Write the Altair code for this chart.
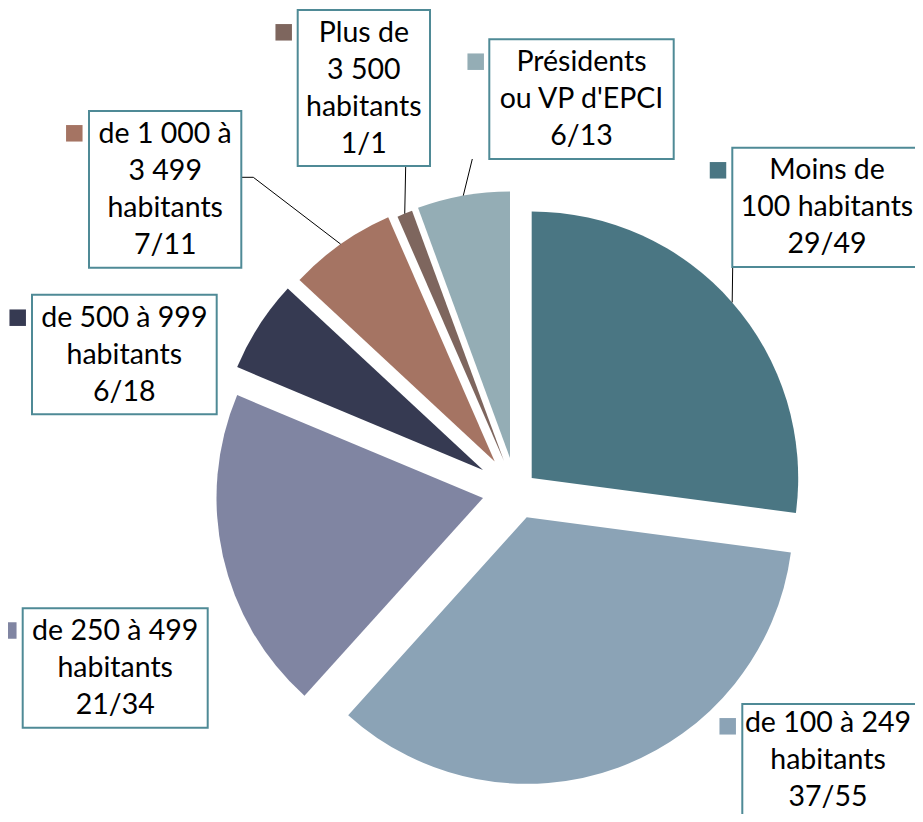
import altair as alt
import pandas as pd

# ---- data ----
categories = [
    "Moins de 100 habitants",
    "de 100 à 249 habitants",
    "de 250 à 499 habitants",
    "de 500 à 999 habitants",
    "de 1 000 à 3 499 habitants",
    "Plus de 3 500 habitants",
    "Présidents ou VP d'EPCI",
]
elus = [29, 37, 21, 6, 7, 1, 6]
totaux = [49, 55, 34, 18, 11, 1, 13]
label_lines = [
    ["Moins de", "100 habitants"],
    ["de 100 à 249", "habitants"],
    ["de 250 à 499", "habitants"],
    ["de 500 à 999", "habitants"],
    ["de 1 000 à", "3 499", "habitants"],
    ["Plus de", "3 500", "habitants"],
    ["Présidents", "ou VP d'EPCI"],
]
colors = ["#4A7683", "#8BA3B6", "#8085A2", "#363A52", "#A57463", "#7E665E", "#94ADB5"]

# ---- layout (pixels, plot coordinates) ----
W, H = 907, 806
CX, CY = 497, 477
R = 266.5
LH = 37
BORDER = "#4F8A96"
explode_dx = [26.7, 21.7, -22, -22, -10.3, -1, 5]
explode_dy = [-7, 32.3, 13, -15, -23.5, -24, -27]
box_x0 = [724.3, 734.3, 14.7, 24, 81, 289.7, 481.3]
box_x1 = [913.7, 914.7, 199.7, 208.7, 233.3, 422, 665.7]
box_y0 = [139.7, 696, 600.3, 286.7, 103, 2, 31.3]
box_y1 = [259, 830, 719.7, 406.3, 259.7, 158, 151]
text_x = [819, 820, 107.2, 116.3, 157.2, 355.8, 573.5]
text_y = [199.3, 752, 660, 346.5, 181.3, 80, 91.2]
mark_x = [710, 719.7, 0.3, 9.7, 66.3, 275.7, 467.7]
mark_y = [162.3, 718.3, 622.5, 309.7, 125.3, 24.3, 53.7]
has_leader = [1, 0, 0, 0, 1, 1, 1]
lead_ax = [724.7, 0, 0, 0, 233.3, 397.7, 464.3]
lead_ay = [259, 0, 0, 0, 169.3, 158, 151]
lead_bx = [724.7, 0, 0, 0, 245.3, 397.7, 464.3]
lead_by = [259, 0, 0, 0, 169.3, 158, 151]

labels = [
    "\n".join(lines + [f"{e}/{t}"]) for lines, e, t in zip(label_lines, elus, totaux)
]

df = pd.DataFrame({
    "idx": list(range(len(categories))),
    "cat": categories,
    "elus": elus,
    "label": labels,
    "dx": explode_dx, "dy": explode_dy,
    "bx0": box_x0, "bx1": box_x1, "by0": box_y0, "by1": box_y1,
    "tx": text_x, "ty": text_y,
    "mx": mark_x, "my": mark_y,
    "lead": has_leader,
    "ax": lead_ax, "ay": lead_ay, "bx": lead_bx, "by": lead_by,
})

color_scale = alt.Scale(domain=categories, range=colors)
total_elus = sum(elus)

base = alt.Chart(df).transform_window(
    c1="sum(elus)", sort=[alt.SortField("idx")], frame=[None, 0]
).transform_joinaggregate(
    tot="sum(elus)"
).transform_calculate(
    c0="datum.c1 - datum.elus",
    cx=f"{CX} + datum.dx",
    cy=f"{CY} + datum.dy",
    mid="PI * (2 * datum.c1 - datum.elus) / datum.tot",
    ty0=f"datum.ty - (length(split(datum.label, '\\n')) - 1) * {LH} / 2",
).transform_calculate(
    ex=f"datum.cx + {R} * sin(datum.mid)",
    ey=f"datum.cy - {R} * cos(datum.mid)",
)

pie = base.mark_arc(radius=R).encode(
    theta=alt.Theta("c0:Q", stack=None,
                    scale=alt.Scale(domain=[0, total_elus], range=[0, 6.283185307179586], nice=False, zero=True)),
    theta2=alt.Theta2("c1:Q"),
    x=alt.X("cx:Q", scale=None),
    y=alt.Y("cy:Q", scale=None),
    color=alt.Color("cat:N", scale=color_scale, legend=None),
)

lead1 = base.transform_filter("datum.lead == 1").mark_rule(color="#000000", strokeWidth=1).encode(
    x=alt.X("ax:Q", scale=None), y=alt.Y("ay:Q", scale=None),
    x2="bx:Q", y2="by:Q",
)
lead2 = base.transform_filter("datum.lead == 1").mark_rule(color="#000000", strokeWidth=1).encode(
    x=alt.X("bx:Q", scale=None), y=alt.Y("by:Q", scale=None),
    x2="ex:Q", y2="ey:Q",
)

boxes = base.mark_rect(fill="#FFFFFF", stroke=BORDER, strokeWidth=2).encode(
    x=alt.X("bx0:Q", scale=None), x2="bx1:Q",
    y=alt.Y("by0:Q", scale=None), y2="by1:Q",
)

texts = base.mark_text(
    font="Lato", fontSize=28.5, lineBreak="\n", lineHeight=LH,
    align="center", baseline="middle", color="#000000",
).encode(
    x=alt.X("tx:Q", scale=None), y=alt.Y("ty0:Q", scale=None), text="label:N",
)

markers = base.mark_square(size=272, opacity=1, strokeWidth=0).encode(
    x=alt.X("mx:Q", scale=None), y=alt.Y("my:Q", scale=None),
    color=alt.Color("cat:N", scale=color_scale, legend=None),
)

chart = alt.layer(pie, lead1, lead2, boxes, texts, markers).properties(
    width=W, height=H, padding=0, autosize="none",
).configure_view(stroke=None)

chart.save("out.html", embed_options={"renderer": "svg", "actions": False})
